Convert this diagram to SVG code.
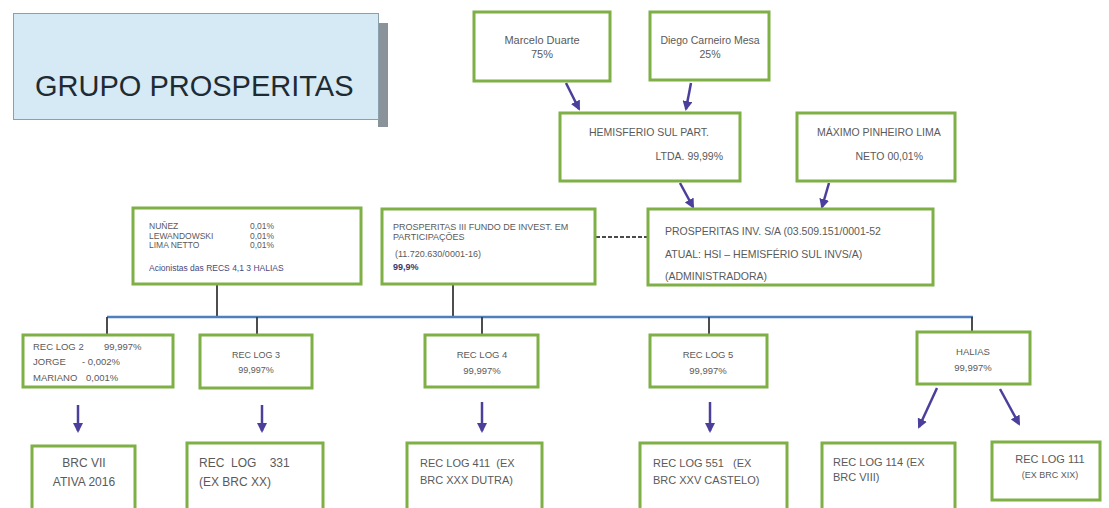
<svg xmlns="http://www.w3.org/2000/svg" width="1109" height="508" viewBox="0 0 1109 508">
<style>
.box{fill:#ffffff;stroke:#7fb046;stroke-width:3}
.t{font-family:"Liberation Sans",Arial,sans-serif;fill:#5a5a5a}
.c{text-anchor:middle}
.arr{stroke:#4b3f9c;stroke-width:2.5;fill:none;marker-end:url(#ah)}
.vl{stroke:#3a3a3a;stroke-width:1.8;fill:none}
</style>
<defs>
<marker id="ah" viewBox="0 0 10 10" refX="8" refY="5" markerWidth="4" markerHeight="4" orient="auto" markerUnits="strokeWidth">
<path d="M0,0 L10,5 L0,10 z" fill="#4b3f9c"/>
</marker>
</defs>
<rect width="1109" height="508" fill="#ffffff"/>

<g id="title">
<rect x="378" y="23" width="10" height="104" fill="#8a9399"/>
<rect x="13.5" y="13.5" width="365" height="106" fill="#d5eaf5" stroke="#8aa0ab" stroke-width="1"/>
<text x="35" y="96" font-family="Liberation Sans, Arial, sans-serif" font-size="29" fill="#1f2b33">GRUPO PROSPERITAS</text>
</g>

<g id="connectors">
<path class="arr" d="M566,83 L579,109"/>
<path class="arr" d="M691,83 L686,109"/>
<path class="arr" d="M680,183 L693,207"/>
<path class="arr" d="M829,183 L822,207"/>
<path d="M596,237 L647,237" stroke="#111" stroke-width="1.5" stroke-dasharray="4 2"/>
<path class="vl" d="M217,285 V317"/>
<path class="vl" d="M453,285 V317"/>
<path d="M107,317 H973" stroke="#4f7fbd" stroke-width="2.5"/>
<path class="vl" d="M107,317 V334 M257,317 V334 M482,317 V334 M709,317 V334 M972,317 V331"/>
<path class="arr" d="M78,405 V431"/>
<path class="arr" d="M262,405 V431"/>
<path class="arr" d="M482,402 V431"/>
<path class="arr" d="M710,402 V431"/>
<path class="arr" d="M937,388 L919,427"/>
<path class="arr" d="M1000,389 L1019,424"/>
</g>

<g id="marcelo">
<rect class="box" x="474" y="12" width="136" height="69"/>
<text class="t c" x="542" y="44" font-size="11">Marcelo Duarte</text>
<text class="t c" x="542" y="58" font-size="11">75%</text>
</g>
<g id="diego">
<rect class="box" x="650" y="12" width="119" height="68"/>
<text class="t c" x="710" y="44" font-size="10.5">Diego Carneiro Mesa</text>
<text class="t c" x="710" y="58" font-size="10.5">25%</text>
</g>
<g id="hemisferio">
<rect class="box" x="560" y="113" width="180" height="68"/>
<text class="t" x="589" y="136" font-size="10.5">HEMISFERIO SUL PART.</text>
<text class="t" x="723" y="160" font-size="10.5" text-anchor="end">LTDA. 99,99%</text>
</g>
<g id="maximo">
<rect class="box" x="797" y="113" width="158" height="68"/>
<text class="t" x="817" y="136" font-size="10.5">MÁXIMO PINHEIRO LIMA</text>
<text class="t" x="923" y="160" font-size="10.5" text-anchor="end">NETO 00,01%</text>
</g>
<g id="acionistas">
<rect class="box" x="133" y="208" width="228" height="76"/>
<text class="t" x="149" y="229" font-size="8.5">NUÑEZ</text>
<text class="t" x="250" y="229" font-size="8.5">0,01%</text>
<text class="t" x="149" y="239" font-size="8.5">LEWANDOWSKI</text>
<text class="t" x="250" y="239" font-size="8.5">0,01%</text>
<text class="t" x="149" y="248" font-size="8.5">LIMA NETTO</text>
<text class="t" x="250" y="248" font-size="8.5">0,01%</text>
<text class="t" x="149" y="271" font-size="8.5" style="fill:#4a4a7a">Acionistas das RECS 4,1 3 HALIAS</text>
</g>
<g id="fundo">
<rect class="box" x="382" y="209" width="213" height="75"/>
<text class="t" x="393" y="230" font-size="9">PROSPERITAS III FUNDO DE INVEST. EM</text>
<text class="t" x="393" y="240" font-size="9">PARTICIPAÇÕES</text>
<text class="t" x="395" y="257" font-size="9">(11.720.630/0001-16)</text>
<text class="t" x="393" y="270" font-size="9" font-weight="bold" style="fill:#3a3a6a">99,9%</text>
</g>
<g id="prosperitas">
<rect class="box" x="648" y="209" width="285" height="76"/>
<text class="t" x="665" y="235" font-size="10.5">PROSPERITAS INV. S/A (03.509.151/0001-52</text>
<text class="t" x="665" y="258" font-size="10.5">ATUAL: HSI – HEMISFÉRIO SUL INVS/A)</text>
<text class="t" x="665" y="280" font-size="10.5">(ADMINISTRADORA)</text>
</g>
<g id="reclog2">
<rect class="box" x="23" y="335" width="150" height="52"/>
<text class="t" x="33" y="350" font-size="9.5">REC LOG 2</text>
<text class="t" x="104" y="350" font-size="9.5">99,997%</text>
<text class="t" x="33" y="365" font-size="9.5">JORGE</text>
<text class="t" x="82" y="365" font-size="9.5">- 0,002%</text>
<text class="t" x="33" y="381" font-size="9.5">MARIANO</text>
<text class="t" x="86" y="381" font-size="9.5">0,001%</text>
</g>
<g id="reclog3">
<rect class="box" x="200" y="335" width="112" height="53"/>
<text class="t c" x="256" y="358" font-size="9">REC LOG 3</text>
<text class="t c" x="256" y="373" font-size="9">99,997%</text>
</g>
<g id="reclog4">
<rect class="box" x="425" y="335" width="113" height="52"/>
<text class="t c" x="482" y="358" font-size="9.5">REC LOG 4</text>
<text class="t c" x="482" y="374" font-size="9.5">99,997%</text>
</g>
<g id="reclog5">
<rect class="box" x="650" y="335" width="117" height="52"/>
<text class="t c" x="708" y="358" font-size="9.5">REC LOG 5</text>
<text class="t c" x="708" y="374" font-size="9.5">99,997%</text>
</g>
<g id="halias">
<rect class="box" x="917" y="332" width="113" height="52"/>
<text class="t c" x="973" y="355" font-size="9.5">HALIAS</text>
<text class="t c" x="973" y="371" font-size="9.5">99,997%</text>
</g>
<g id="brcvii">
<rect class="box" x="32" y="446" width="103" height="70"/>
<text class="t c" x="84" y="467" font-size="12">BRC VII</text>
<text class="t c" x="84" y="486" font-size="12">ATIVA 2016</text>
</g>
<g id="reclog331">
<rect class="box" x="187" y="443" width="136" height="73"/>
<text class="t" x="199" y="467" font-size="12" xml:space="preserve">REC  LOG    331</text>
<text class="t" x="199" y="486" font-size="12">(EX BRC XX)</text>
</g>
<g id="reclog411">
<rect class="box" x="407" y="443" width="135" height="73"/>
<text class="t" x="420" y="467" font-size="11" xml:space="preserve">REC LOG 411  (EX</text>
<text class="t" x="420" y="484" font-size="11">BRC XXX DUTRA)</text>
</g>
<g id="reclog551">
<rect class="box" x="640" y="443" width="147" height="73"/>
<text class="t" x="653" y="467" font-size="11" xml:space="preserve">REC LOG 551   (EX</text>
<text class="t" x="653" y="484" font-size="11">BRC XXV CASTELO)</text>
</g>
<g id="reclog114">
<rect class="box" x="822" y="443" width="133" height="73"/>
<text class="t" x="833" y="466" font-size="11">REC LOG 114 (EX</text>
<text class="t" x="833" y="481" font-size="11">BRC VIII)</text>
</g>
<g id="reclog111">
<rect class="box" x="992" y="442" width="108" height="58"/>
<text class="t c" x="1050" y="463" font-size="11">REC LOG 111</text>
<text class="t c" x="1050" y="478" font-size="9">(EX BRC XIX)</text>
</g>
</svg>
